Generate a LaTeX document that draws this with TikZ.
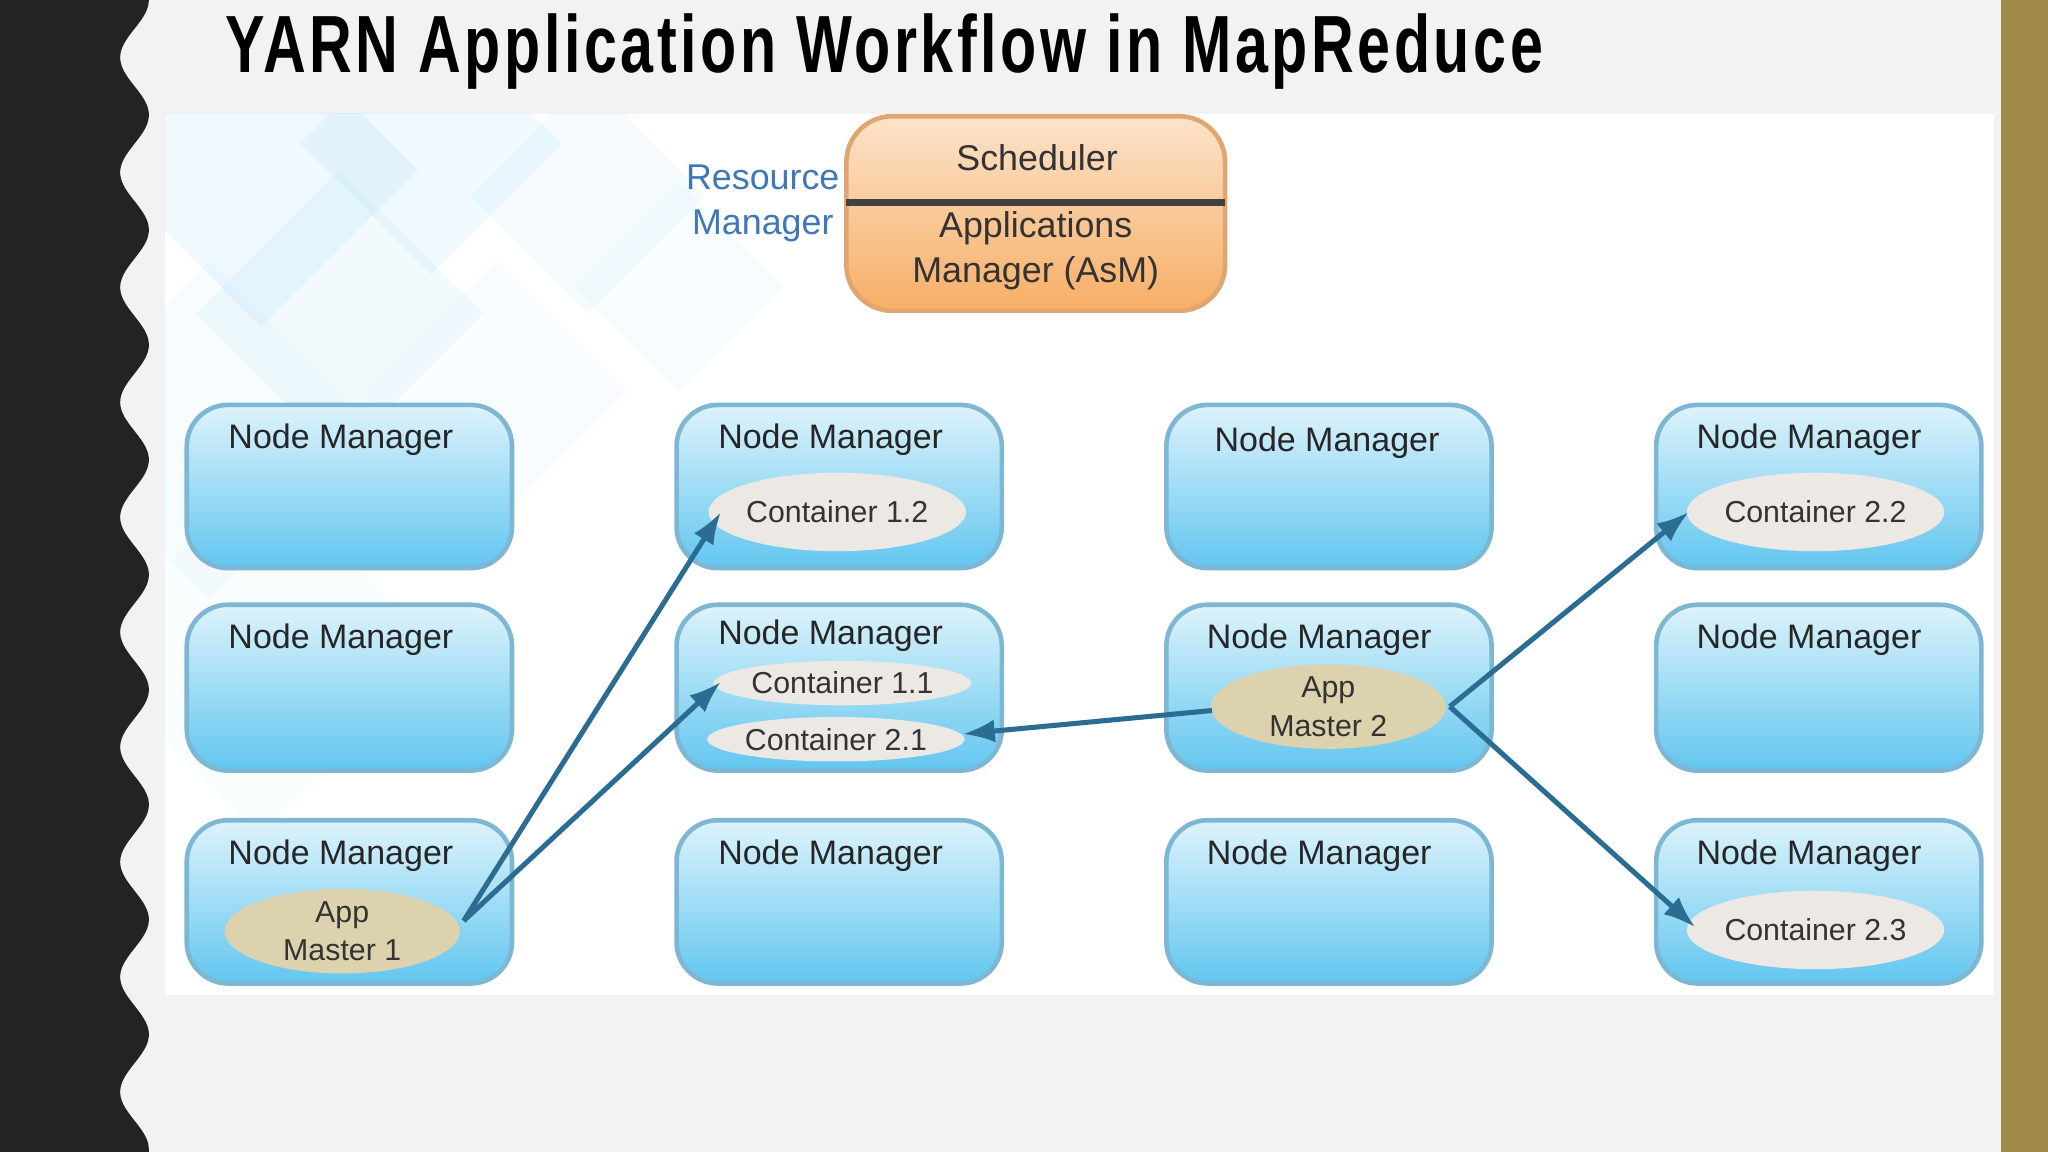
\documentclass[tikz,border=0pt]{standalone}
\usepackage{fontspec}
\setmainfont{Liberation Sans}
\newfontfamily\titlefont[LetterSpace=6]{Liberation Sans}
\usetikzlibrary{arrows.meta,shapes.geometric}
\definecolor{bg}{HTML}{F2F2F4}
\definecolor{band}{HTML}{232323}
\definecolor{gold}{HTML}{A08A4A}
\definecolor{nmtop}{HTML}{DDF3FB}
\definecolor{nmbot}{HTML}{62C6EF}
\definecolor{nmedge}{HTML}{7DB7D3}
\definecolor{arr}{HTML}{2B6C92}
\definecolor{rmblue}{HTML}{3F78B8}
\definecolor{orgtop}{HTML}{FCE3CA}
\definecolor{orgbot}{HTML}{F7AE66}
\definecolor{orgedge}{HTML}{E0A670}
\definecolor{cont}{HTML}{ECE9E4}
\definecolor{amfill}{HTML}{DDD2AE}
\tikzset{
  nmbox/.style={draw=nmedge, line width=1pt, rounded corners=9pt, top color=nmtop, bottom color=nmbot},
  nmlabel/.style={font=\fontsize{7.4}{9}\selectfont, text=black!85, inner sep=0pt},
  contel/.style={ellipse, fill=cont, inner sep=0pt, font=\fontsize{6.6}{8}\selectfont, text=black!80, align=center},
  amel/.style={ellipse, fill=amfill, inner sep=0pt, font=\fontsize{6.6}{8.4}\selectfont, text=black!80, align=center},
  conn/.style={draw=arr, line width=1.1pt, -{Latex[length=7pt,width=5pt]}},
}
\begin{document}
\begin{tikzpicture}[x=0.01cm,y=-0.01cm]
\useasboundingbox (0,0) rectangle (1568,882);
\fill[bg] (0,0) rectangle (1568,882);
\fill[gold] (1532,0) rectangle (1568,882);
% wavy band
\fill[band] (0,0) -- plot[domain=0:882,samples=200,smooth] ({103+11*cos(\x/88*360)},\x) -- (0,882) -- cycle;
% title
\node[anchor=north west,inner sep=0pt] (title) at (172,10) {\resizebox{10.08cm}{0.45cm}{\titlefont\bfseries YARN Application Workflow in MapReduce}};
% image area
\fill[white] (126,87) rectangle (1527,762);
\begin{scope}
\clip (126,87) rectangle (1527,762);
\foreach \cx/\cy/\s/\o in {200/130/120/0.18,330/110/100/0.15,450/150/90/0.1,260/240/110/0.12,160/330/130/0.08,380/300/100/0.07,520/220/80/0.07,200/500/140/0.05}{
  \fill[nmbot!60,opacity=\o] (\cx-\s,\cy) -- (\cx,\cy-\s) -- (\cx+\s,\cy) -- (\cx,\cy+\s) -- cycle;
}
\end{scope}
% resource manager
\path[draw=orgedge, line width=1pt, rounded corners=10pt, top color=orgtop, bottom color=orgbot] (648,89) rectangle (938,238);
\draw[black!75,line width=1.5pt] (648,155) -- (938,155);
\node[font=\fontsize{7.8}{9}\selectfont, text=black!80] (sched) at (794,121) {Scheduler};
\node[font=\fontsize{7.8}{9.8}\selectfont, text=black!80, align=center] (asm) at (793,192) {Applications\\Manager (AsM)};
\node[font=\fontsize{7.8}{9.8}\selectfont, text=rmblue, align=center] (rm) at (584,156) {Resource\\Manager};
% node managers
\foreach \x in {143,518,893,1268}{
  \foreach \y/\h in {310/125,463/127,628/125}{
    \path[nmbox] (\x,\y) rectangle (\x+249,\y+\h);
  }
}
\foreach \x/\y/\n in {261/337/a1,261/490/a2,261/655/a3,636/337/b1,636/487/b2,636/655/b3,1016/339/c1,1010/490/c2,1010/655/c3,1385/337/d1,1385/490/d2,1385/655/d3}{
  \node[nmlabel] (nm\n) at (\x,\y) {Node Manager};
}
% ellipses
\node[contel, minimum width=1.8cm, minimum height=0.6cm] (c12) at (641,392) {Container 1.2};
\node[contel, minimum width=1.8cm, minimum height=0.34cm] (c11) at (645,523) {Container 1.1};
\node[contel, minimum width=1.8cm, minimum height=0.34cm] (c21) at (640,566) {Container 2.1};
\node[contel, minimum width=1.8cm, minimum height=0.6cm] (c22) at (1390,392) {Container 2.2};
\node[contel, minimum width=1.8cm, minimum height=0.6cm] (c23) at (1390,712) {Container 2.3};
\node[amel, minimum width=1.8cm, minimum height=0.62cm] (am1) at (262,713) {App\\Master 1};
\node[amel, minimum width=1.8cm, minimum height=0.64cm] (am2) at (1017,541) {App\\Master 2};
% connectors
\coordinate (am1r) at (355,705);
\coordinate (am2l) at (928,544);
\coordinate (am2r) at (1110,541);
\coordinate (c12w) at (552,392);
\coordinate (c11w) at (552,522);
\coordinate (c21e) at (737,562);
\coordinate (c22w) at (1293,392);
\coordinate (c23w) at (1298,710);
\draw[conn] (am1r) -- (c12w);
\draw[conn] (am1r) -- (c11w);
\draw[conn] (am2l) -- (c21e);
\draw[conn] (am2r) -- (c22w);
\draw[conn] (am2r) -- (c23w);
\end{tikzpicture}
\end{document}
